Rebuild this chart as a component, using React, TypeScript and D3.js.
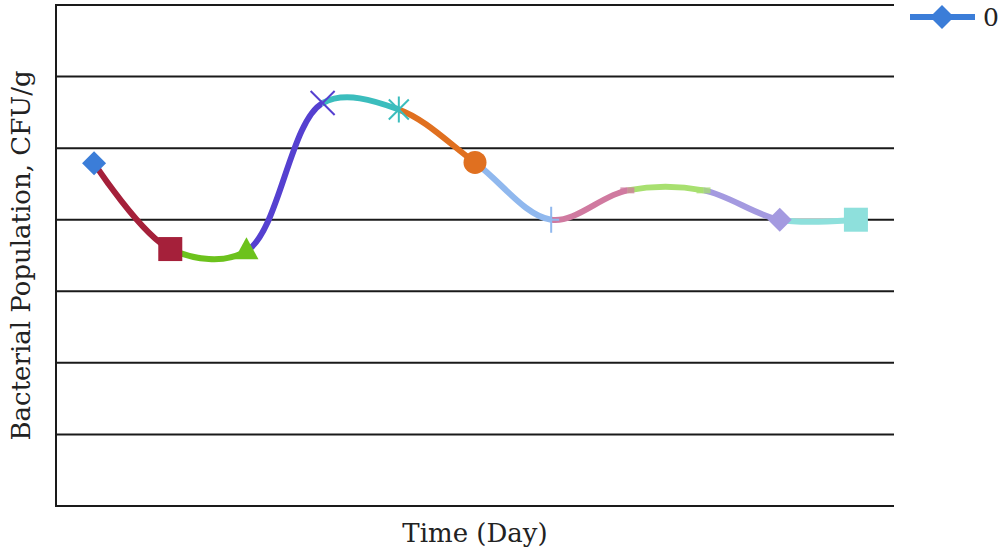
import React from 'react';
import * as d3 from 'd3';

// one series ("0"), each point coloured separately, smoothed line
const days = ['1', '2', '3', '4', '5', '6', '7', '8', '9', '10', '11'];
const population = [4.79, 3.59, 3.56, 5.63, 5.54, 4.8, 4.0, 4.41, 4.41, 4.0, 4.0];
const pointColors = [
  '#3b7dd8', '#a5203a', '#6cc21c', '#5540d0', '#3bbdbd', '#e07020',
  '#90b8ee', '#d07aa0', '#a8e070', '#a49ae0', '#8ee0dc',
];
const markerShapes = [
  'diamond', 'square', 'triangle', 'x', 'asterisk', 'circle',
  'plus', 'dash', 'dash', 'diamond', 'square',
];
const gridTicks = [0, 1, 2, 3, 4, 5, 6, 7];
const seriesName = '0';

const W = 1000;
const H = 550;
const margin = { top: 5, right: 106, bottom: 44, left: 56 };
const FONT = '"DejaVu Serif", "Liberation Serif", serif';

function Marker({ shape, x, y, color }: { shape: string; x: number; y: number; color: string }) {
  switch (shape) {
    case 'diamond':
      return <path d={`M${x},${y - 12}L${x + 12},${y}L${x},${y + 12}L${x - 12},${y}Z`} fill={color} />;
    case 'square':
      return <rect x={x - 12} y={y - 12} width={24} height={24} fill={color} />;
    case 'triangle':
      return <path d={`M${x},${y - 14}L${x + 12},${y + 8}L${x - 12},${y + 8}Z`} fill={color} />;
    case 'circle':
      return <circle cx={x} cy={y} r={11.5} fill={color} />;
    case 'x':
      return (
        <path d={`M${x - 12},${y - 12}L${x + 12},${y + 12}M${x + 12},${y - 12}L${x - 12},${y + 12}`}
          stroke={color} strokeWidth={2} />
      );
    case 'asterisk':
      return (
        <path
          d={`M${x - 10},${y - 10}L${x + 10},${y + 10}M${x + 10},${y - 10}L${x - 10},${y + 10}M${x},${y - 13}L${x},${y + 13}`}
          stroke={color} strokeWidth={2} />
      );
    case 'plus':
      return (
        <path d={`M${x},${y - 13}L${x},${y + 13}M${x - 8},${y}L${x + 8},${y}`}
          stroke={color} strokeWidth={2} />
      );
    case 'dash':
      return <path d={`M${x - 7},${y}L${x + 7},${y}`} stroke={color} strokeWidth={6} opacity={0.75} />;
    default:
      return null;
  }
}

export default function App() {
  const innerW = W - margin.left - margin.right;
  const x = d3.scalePoint<string>().domain(days).range([margin.left, margin.left + innerW]).padding(0.5);
  const y = d3.scaleLinear().domain([0, 7]).range([H - margin.bottom, margin.top]);

  const pts: [number, number][] = days.map((d, i) => [x(d) as number, y(population[i])]);
  const line = d3.line().curve(d3.curveCatmullRom.alpha(0.5));
  const fullPath = line(pts) || '';

  return (
    <svg width={W} height={H} style={{ position: 'absolute', left: 0, top: 0, background: '#fff' }}>
      <defs>
        {pts.slice(1).map((p, i) => (
          <clipPath id={`seg-${i}`} key={i}>
            <rect x={pts[i][0]} y={0} width={p[0] - pts[i][0]} height={H} />
          </clipPath>
        ))}
      </defs>

      {/* gridlines */}
      {gridTicks.map(t => (
        <line key={t} x1={margin.left} x2={margin.left + innerW} y1={y(t)} y2={y(t)}
          stroke="#1a1a1a" strokeWidth={2} />
      ))}
      <line x1={margin.left} x2={margin.left} y1={y(7) - 1} y2={y(0) + 1} stroke="#1a1a1a" strokeWidth={2} />

      {/* coloured segments of the smoothed line */}
      {pts.slice(1).map((_, i) => (
        <path key={i} d={fullPath} clipPath={`url(#seg-${i})`} fill="none"
          stroke={pointColors[i + 1]} strokeWidth={6} />
      ))}

      {pts.map((p, i) => (
        <Marker key={i} shape={markerShapes[i]} x={p[0]} y={p[1]} color={pointColors[i]} />
      ))}

      {/* legend */}
      <g transform="translate(910,17)">
        <line x1={0} x2={65} y1={0} y2={0} stroke={pointColors[0]} strokeWidth={6} />
        <Marker shape="diamond" x={32} y={0} color={pointColors[0]} />
        <text x={73} y={9} fontFamily={FONT} fontSize={25} fill="#222">{seriesName}</text>
      </g>

      <text x={margin.left + innerW / 2} y={542} textAnchor="middle" fontFamily={FONT} fontSize={26} fill="#222">
        Time (Day)
      </text>
      <text transform={`translate(30,${(margin.top + H - margin.bottom) / 2}) rotate(-90)`} textAnchor="middle"
        fontFamily={FONT} fontSize={26} fill="#222">
        Bacterial Population, CFU/g
      </text>
    </svg>
  );
}
